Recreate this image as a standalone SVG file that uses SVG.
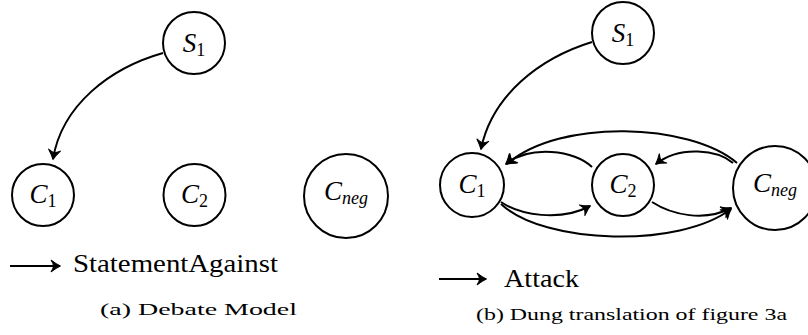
<svg xmlns="http://www.w3.org/2000/svg" width="808" height="335" viewBox="0 0 808 335">
<style>
.node{fill:#fff;stroke:#000;stroke-width:2}
.edge{fill:none;stroke:#000;stroke-width:2}
</style>
<defs>
<marker id="arr" markerUnits="userSpaceOnUse" markerWidth="24" markerHeight="24" viewBox="-12 -12 24 24" refX="0" refY="0" orient="auto">
<path d="M0.5,0 Q-3.5,-1.8 -9,-6 Q-6.5,-1.8 -6.5,0 Q-6.5,1.8 -9,6 Q-3.5,1.8 0.5,0 Z" fill="#000" stroke="#000" stroke-width="1" stroke-linejoin="round"/>
</marker>
</defs>
<g id="connectors">
<path class="edge" marker-end="url(#arr)" d="M163,53 C110,68 62,105 53,159"/>
<path class="edge" marker-end="url(#arr)" d="M592,42 C540,58 492,95 481,149"/>
<path class="edge" marker-end="url(#arr)" d="M592,167 C575,150 530,145 506,164"/>
<path class="edge" marker-end="url(#arr)" d="M733,163 C718,150 680,145 656,164"/>
<path class="edge" marker-end="url(#arr)" d="M737,163 C690,123 560,118 507,164"/>
<path class="edge" marker-end="url(#arr)" d="M501,202 C520,215 560,222 590,206"/>
<path class="edge" marker-end="url(#arr)" d="M652,202 C672,215 705,222 731,208"/>
<path class="edge" marker-end="url(#arr)" d="M501,204 C545,245 680,248 731,209"/>
<path class="edge" marker-end="url(#arr)" d="M10,266 L60,266"/>
<path class="edge" marker-end="url(#arr)" d="M439,279 L486,279"/>
</g>
<g id="a_S1"><circle class="node" cx="194" cy="43" r="31"/><text x="194" y="52" text-anchor="middle" style="font-family:'Liberation Serif',serif;font-size:27px;font-style:italic">S<tspan style="font-size:18px;font-style:normal" dy="4">1</tspan></text></g>
<g id="a_C1"><circle class="node" cx="43" cy="195" r="31"/><text x="43" y="203" text-anchor="middle" style="font-family:'Liberation Serif',serif;font-size:27px;font-style:italic">C<tspan style="font-size:18px;font-style:normal" dy="4">1</tspan></text></g>
<g id="a_C2"><circle class="node" cx="194.5" cy="195" r="31"/><text x="194.5" y="203" text-anchor="middle" style="font-family:'Liberation Serif',serif;font-size:27px;font-style:italic">C<tspan style="font-size:18px;font-style:normal" dy="4">2</tspan></text></g>
<g id="a_Cneg"><circle class="node" cx="346" cy="196" r="42"/><text x="346" y="200" text-anchor="middle" style="font-family:'Liberation Serif',serif;font-size:27px;font-style:italic">C<tspan style="font-size:18px" dy="4">neg</tspan></text></g>
<g id="b_S1"><circle class="node" cx="623" cy="33" r="31"/><text x="623" y="42" text-anchor="middle" style="font-family:'Liberation Serif',serif;font-size:27px;font-style:italic">S<tspan style="font-size:18px;font-style:normal" dy="4">1</tspan></text></g>
<g id="b_C1"><circle class="node" cx="472" cy="185" r="32"/><text x="472" y="193" text-anchor="middle" style="font-family:'Liberation Serif',serif;font-size:27px;font-style:italic">C<tspan style="font-size:18px;font-style:normal" dy="4">1</tspan></text></g>
<g id="b_C2"><circle class="node" cx="623" cy="185" r="31"/><text x="623" y="193" text-anchor="middle" style="font-family:'Liberation Serif',serif;font-size:27px;font-style:italic">C<tspan style="font-size:18px;font-style:normal" dy="4">2</tspan></text></g>
<g id="b_Cneg"><circle class="node" cx="775" cy="188" r="42"/><text x="775" y="192" text-anchor="middle" style="font-family:'Liberation Serif',serif;font-size:27px;font-style:italic">C<tspan style="font-size:18px" dy="4">neg</tspan></text></g>
<g id="legend">
<text x="73" y="272" style="font-family:'Liberation Serif',serif;font-size:26px" textLength="205" lengthAdjust="spacingAndGlyphs">StatementAgainst</text>
<text x="504" y="287" style="font-family:'Liberation Serif',serif;font-size:26px" textLength="75" lengthAdjust="spacingAndGlyphs">Attack</text>
</g>
<g id="captions">
<text x="100" y="315" style="font-family:'Liberation Serif',serif;font-size:17px" textLength="197" lengthAdjust="spacingAndGlyphs">(a) Debate Model</text>
<text x="476" y="320" style="font-family:'Liberation Serif',serif;font-size:17px" textLength="311" lengthAdjust="spacingAndGlyphs">(b) Dung translation of figure 3a</text>
</g>
</svg>
